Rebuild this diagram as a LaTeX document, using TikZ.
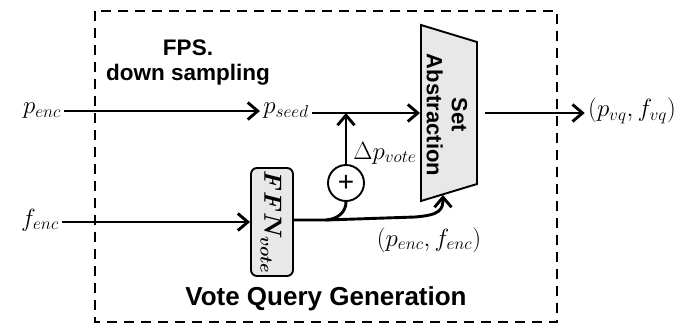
\documentclass[tikz,border=0pt]{standalone}
\usepackage{amsmath}
\usepackage{bm}
\usepackage{fontspec}
\setsansfont{Liberation Sans}
\usetikzlibrary{arrows.meta}
\begin{document}
\begin{tikzpicture}[x=1pt,y=-1pt,
  line width=2.9pt,
  arr/.style={-{Straight Barb[length=10pt,width=17pt,line width=2.9pt]}},
  mlabel/.style={font=\fontsize{24}{28}\selectfont, inner sep=2pt},
  fpsfont/.style={font=\fontsize{22.5}{26}\selectfont\sffamily\bfseries, align=center},
  boxfill/.style={fill=black!9},
  frame/.style={dash pattern=on 10pt off 7pt, line width=2.6pt}]
\useasboundingbox (0,0) rectangle (680,325);
\draw[frame] (95,11) rectangle (557,322);

% labels
\node[mlabel] (penc) at (42,111) {$p_{enc}$};
\node[mlabel] (pseed) at (286,111) {$p_{seed}$};
\node[mlabel] (fenc) at (40,220) {$f_{enc}$};
\node[mlabel] (out) at (632,111) {$(p_{vq}, f_{vq})$};
\node[mlabel, anchor=west] (dp) at (350,153) {$\Delta p_{vote}$};
\node[mlabel] (pf) at (429,240) {$(p_{enc}, f_{enc})$};

\node[fpsfont] (fps) at (188,63) {FPS.\\[-1pt]down sampling};
\node[font=\fontsize{26}{30}\selectfont\sffamily\bfseries] (vqg) at (326,299) {Vote Query Generation};

% FFN box
\node[draw, boxfill, rounded corners=6pt, line width=1.9pt, minimum width=42pt, minimum height=108pt, inner sep=0pt] (ffn) at (272,222) {};
\node[rotate=-90, font=\fontsize{23}{26}\selectfont] (ffnt) at (271,222) {$\bm{FFN_{vote}}$};

% plus circle
\node[draw, circle, minimum size=36pt, inner sep=0pt, line width=1.9pt, font=\fontsize{28}{30}\selectfont\sffamily] (plus) at (346,183) {+};

% set abstraction trapezoid
\coordinate (satl) at (421,25);
\coordinate (satr) at (477,42);
\coordinate (sabr) at (477,184);
\coordinate (sabl) at (421,201);
\draw[boxfill, line width=1.9pt] (satl) -- (satr) -- (sabr) -- (sabl) -- cycle;
\node[rotate=-90, font=\fontsize{22}{25}\selectfont\sffamily\bfseries, align=center] (sat) at (447,115) {Set\\Abstraction};

\coordinate (saL) at (420,113);
\coordinate (saR) at (485,113);
\coordinate (sabot) at (443,195);
\coordinate (j) at (346,113);
\coordinate (br) at (326,220);

% connectors
\draw[arr] (penc.east) -- (pseed.west |- penc.east);
\draw[arr] (pseed.east |- j) -- (saL);
\draw[arr] (plus.north) -- (j);
\draw[arr] (saR) -- (out.west |- saR);
\draw[arr] (fenc.east |- ffn) -- (ffn.west);
\draw[arr] (ffn.east |- br) -- (br) -- (415,217) .. controls (440,215) and (443,210) .. (sabot);
\draw (br) .. controls (338,219) and (346,212) .. (plus.south);
\end{tikzpicture}
\end{document}
